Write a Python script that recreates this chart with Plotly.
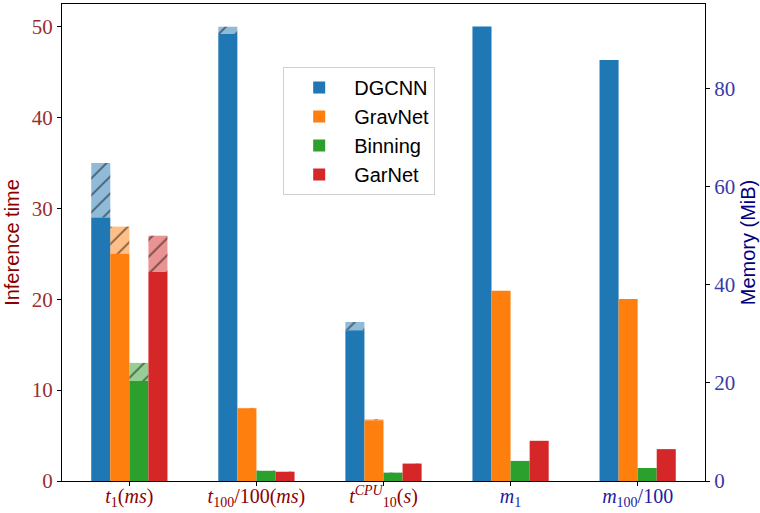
import plotly.graph_objects as go

# Benchmark categories (first three: inference time, last two: memory)
categories = ["t1", "t100", "t10cpu", "m1", "m100"]
time_cats = categories[:3]
mem_cats = categories[3:]

RED = "#8b0000"
NAVY = "#000080"
tick_text = [
    f'<span style="color:{RED}"><i>t</i><sub>1</sub>(<i>ms</i>)</span>',
    f'<span style="color:{RED}"><i>t</i><sub>100</sub>/100(<i>ms</i>)</span>',
    f'<span style="color:{RED}"><i>t</i><sup><i>CPU</i></sup><sub>10</sub>(<i>s</i>)</span>',
    f'<span style="color:#1c1ca0"><i>m</i><sub>1</sub></span>',
    f'<span style="color:#1c1ca0"><i>m</i><sub>100</sub>/100</span>',
]

models = ["DGCNN", "GravNet", "Binning", "GarNet"]
colors = ["#1f77b4", "#ff7f0e", "#2ca02c", "#d62728"]
light = ["rgba(31,119,180,0.5)", "rgba(255,127,14,0.5)",
         "rgba(44,160,44,0.5)", "rgba(214,39,40,0.5)"]

# Inference time: typical value and upper value (hatched part in between)
time_base = {
    "DGCNN": [29.0, 49.2, 16.6],
    "GravNet": [25.0, 8.0, 6.7],
    "Binning": [11.0, 1.1, 0.9],
    "GarNet": [23.0, 1.0, 1.9],
}
time_upper = {
    "DGCNN": [35.0, 50.0, 17.5],
    "GravNet": [28.0, 8.05, 6.8],
    "Binning": [13.0, 1.15, 0.95],
    "GarNet": [27.0, 1.05, 1.95],
}
# Memory usage (MiB)
memory = {
    "DGCNN": [92.7, 85.9],
    "GravNet": [38.8, 37.1],
    "Binning": [4.1, 2.65],
    "GarNet": [8.2, 6.5],
}

width = 0.15
fig = go.Figure()
for i, (m, c, lc) in enumerate(zip(models, colors, light)):
    off = -2 * width + i * width
    base = time_base[m]
    upper = time_upper[m]
    fig.add_trace(go.Bar(
        x=time_cats, y=base, width=width, offset=off, name=m,
        marker=dict(color=c, line=dict(width=0)), legendgroup=m,
        yaxis="y", showlegend=True,
    ))
    fig.add_trace(go.Bar(
        x=time_cats, y=[u - b for u, b in zip(upper, base)], base=base,
        width=width, offset=off, legendgroup=m, showlegend=False,
        marker=dict(color=lc, line=dict(width=0),
                    pattern=dict(shape="/", fgcolor="black", bgcolor=lc,
                                 fillmode="overlay", size=12, solidity=0.15)),
        yaxis="y",
    ))
    fig.add_trace(go.Bar(
        x=mem_cats, y=memory[m], width=width, offset=off, legendgroup=m,
        showlegend=False, marker=dict(color=c, line=dict(width=0)),
        yaxis="y2",
    ))

serif = "Liberation Serif"
sans = "Liberation Sans"
fig.update_layout(
    width=760, height=513,
    margin=dict(l=62, r=55, t=4, b=32),
    plot_bgcolor="white", paper_bgcolor="white",
    barmode="overlay",
    xaxis=dict(
        type="category", categoryorder="array", categoryarray=categories,
        range=[-0.53, 4.53], tickvals=categories, ticktext=tick_text,
        tickfont=dict(family=serif, size=20), automargin=False,
        ticklabelstandoff=-7,
        showline=True, linecolor="black", linewidth=1, mirror=True,
        ticks="outside", ticklen=4, tickcolor="black", showgrid=False,
    ),
    yaxis=dict(
        range=[0, 52.5], tickvals=[0, 10, 20, 30, 40, 50],
        tickfont=dict(family=serif, size=21, color="#983030"), automargin=False,
        title=dict(text="Inference time", font=dict(family=sans, size=20, color=RED),
                   standoff=6),
        showline=True, linecolor="black", linewidth=1,
        ticks="outside", ticklen=4, tickcolor="black", showgrid=False, zeroline=False,
    ),
    yaxis2=dict(
        range=[0, 97.3], tickvals=[0, 20, 40, 60, 80], overlaying="y", side="right",
        tickfont=dict(family=serif, size=21, color="#3a3aa8"), automargin=False,
        title=dict(text="Memory (MiB)", font=dict(family=sans, size=20, color=NAVY),
                   standoff=6),
        showline=True, linecolor="black", linewidth=1,
        ticks="outside", ticklen=4, tickcolor="black", showgrid=False, zeroline=False,
    ),
    legend=dict(
        x=0.344, y=0.868, xanchor="left", yanchor="top",
        font=dict(family=sans, size=20, color="black"),
        bgcolor="white", bordercolor="#d0d0d0", borderwidth=1,
        itemwidth=60, tracegroupgap=0,
    ),
)

fig.write_html("out.html")
